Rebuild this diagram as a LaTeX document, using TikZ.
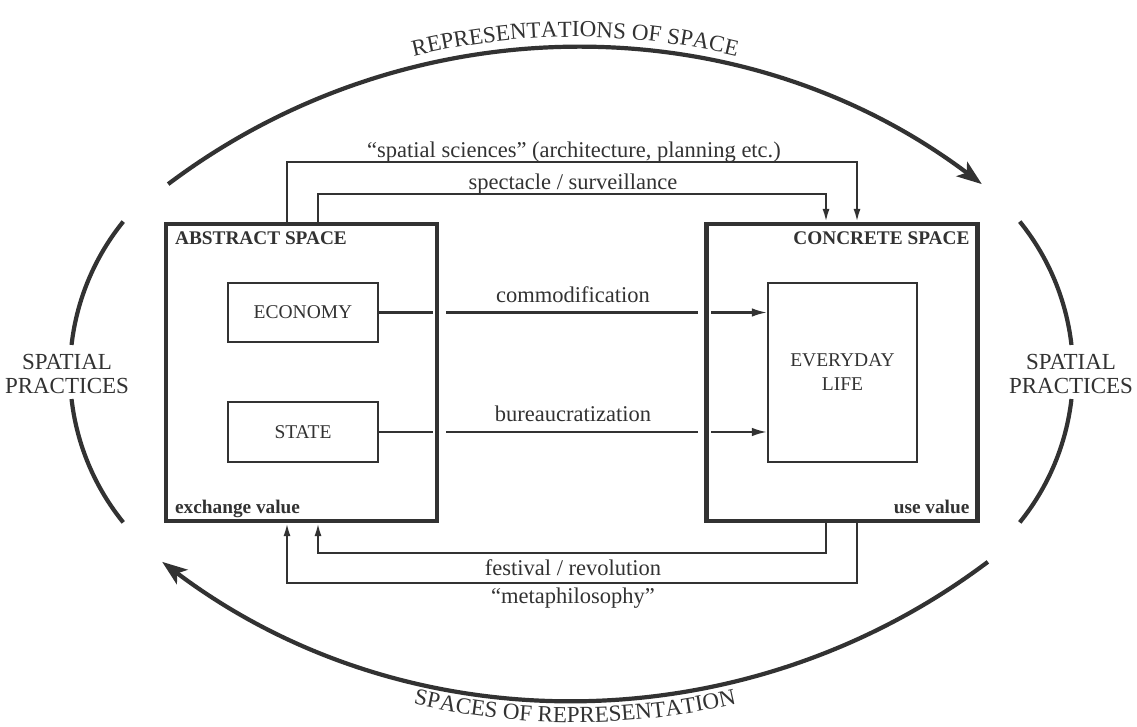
\documentclass[tikz,border=0pt]{standalone}
\usepackage{fontspec}
\setmainfont{Liberation Serif}
\usetikzlibrary{arrows.meta,decorations.text}
\definecolor{ink}{RGB}{50,50,50}
\pgfdeclarelayer{back}
\pgfdeclarelayer{mid}
\pgfsetlayers{back,mid,main}
\newcommand\arcfnt{\fontsize{23}{24}\selectfont\color{ink}}
\begin{document}
\begin{tikzpicture}[x=1pt,y=1pt,
  bigbox/.style={draw=ink,line width=4.2pt,minimum width=271pt,minimum height=297pt,inner sep=0pt},
  smallbox/.style={draw=ink,line width=2.1pt,inner sep=0pt,text=ink,font=\fontsize{19.5}{24}\selectfont},
  conn/.style={draw=ink,line width=2.1pt},
  tip/.style={-{Latex[length=13pt,width=7pt]}},
  bigtip/.style={-{Latex[length=15pt,width=8.5pt]}},
  arcline/.style={draw=ink,line width=4.2pt},
  arctip/.style={-{Stealth[length=25pt,width=18pt,inset=6pt]}},
  lbl/.style={text=ink,inner sep=0pt,font=\fontsize{22.5}{24}\selectfont},
  corner/.style={text=ink,inner sep=0pt,font=\fontsize{19.3}{22}\selectfont\bfseries},
  sidelbl/.style={text=ink,inner sep=0pt,align=center,font=\fontsize{23}{24}\selectfont}
]
\useasboundingbox (0,0) rectangle (1137,727);
\begin{pgfonlayer}{back}
\fill[white] (0,0) rectangle (1137,727);
\end{pgfonlayer}

% main boxes
\node[bigbox] (abs) at (301.5,354.5) {};
\node[bigbox] (con) at (842,354.5) {};
\node[smallbox,minimum width=150pt,minimum height=59pt] (eco) at (303,414.5) {ECONOMY};
\node[smallbox,minimum width=150pt,minimum height=60pt] (sta) at (303,295) {STATE};
\node[smallbox,minimum width=149pt,minimum height=179pt,align=center] (life) at (842.5,354.5) {EVERYDAY\\LIFE};

% corner labels
\node[corner,anchor=base west] (absl) at ([xshift=11pt,yshift=-23pt]abs.north west) {ABSTRACT SPACE};
\node[corner,anchor=base east] (conl) at ([xshift=-10pt,yshift=-23pt]con.north east) {CONCRETE SPACE};
\node[corner,anchor=base west] (exv) at ([xshift=11pt,yshift=10pt]abs.south west) {exchange value};
\node[corner,anchor=base east] (usv) at ([xshift=-10pt,yshift=10pt]con.south east) {use value};

% connectors
\begin{pgfonlayer}{back}
\draw[conn,bigtip] (eco.east) -- (eco.east -| life.west);
\draw[conn,bigtip] (sta.east) -- (sta.east -| life.west);
\draw[conn,tip] ([xshift=-14.5pt]abs.north) -- ++(0,60) -| ([xshift=15pt]con.north);
\draw[conn,tip] ([xshift=16.5pt]abs.north) -- ++(0,28) -| ([xshift=-16pt]con.north);
\draw[conn,tip] ([xshift=-16pt]con.south) -- ++(0,-30) -| ([xshift=16.5pt]abs.south);
\draw[conn,tip] ([xshift=15pt]con.south) -- ++(0,-60) -| ([xshift=-14.5pt]abs.south);
\end{pgfonlayer}
\begin{pgfonlayer}{mid}
\fill[white] (abs.east |- eco.east) +(-6.5,-2.8) rectangle +(6.5,2.8);
\fill[white] (con.west |- eco.east) +(-6.5,-2.8) rectangle +(6.5,2.8);
\fill[white] (abs.east |- sta.east) +(-6.5,-2.8) rectangle +(6.5,2.8);
\fill[white] (con.west |- sta.east) +(-6.5,-2.8) rectangle +(6.5,2.8);
\end{pgfonlayer}

% connector labels
\node[lbl,anchor=base] (tss) at (574,569) {``spatial sciences'' (architecture, planning etc.)};
\node[lbl,anchor=base] (tsp) at (573,537) {spectacle / surveillance};
\node[lbl,anchor=base] (tcom) at (573,424) {commodification};
\node[lbl,anchor=base] (tbur) at (573,305) {bureaucratization};
\node[lbl,anchor=base] (tfes) at (573,151) {festival / revolution};
\node[lbl,anchor=base] (tmet) at (573,123) {``metaphilosophy''};

% outer arcs
\draw[arcline,arctip] (575,3) ++(127:676) arc[start angle=127,end angle=53,radius=676];
\draw[arcline,arctip] (575,713) ++(-53:686) arc[start angle=-53,end angle=-127,radius=686];
\draw[arcline] (309,355) ++(141:239) arc[start angle=141,end angle=173.5,radius=239];
\draw[arcline] (309,355) ++(186.5:239) arc[start angle=186.5,end angle=219,radius=239];
\draw[arcline] (834,355) ++(39:239) arc[start angle=39,end angle=6.5,radius=239];
\draw[arcline] (834,355) ++(-6.5:239) arc[start angle=-6.5,end angle=-39,radius=239];

% arc labels
\path[decorate,decoration={text along path,text align=center,
  text={|\arcfnt|REPRESENTATIONS OF SPACE}}]
  (575,3) ++(118:687) arc[start angle=118,end angle=62,radius=687];
\path[decorate,decoration={text along path,text align=center,
  text={|\arcfnt|SPACES OF REPRESENTATION}}]
  (575,713) ++(-118:708.5) arc[start angle=-118,end angle=-62,radius=708.5];
\node[sidelbl] (spl) at (67,353) {SPATIAL\\PRACTICES};
\node[sidelbl] (spr) at (1071,353) {SPATIAL\\PRACTICES};
\end{tikzpicture}
\end{document}
